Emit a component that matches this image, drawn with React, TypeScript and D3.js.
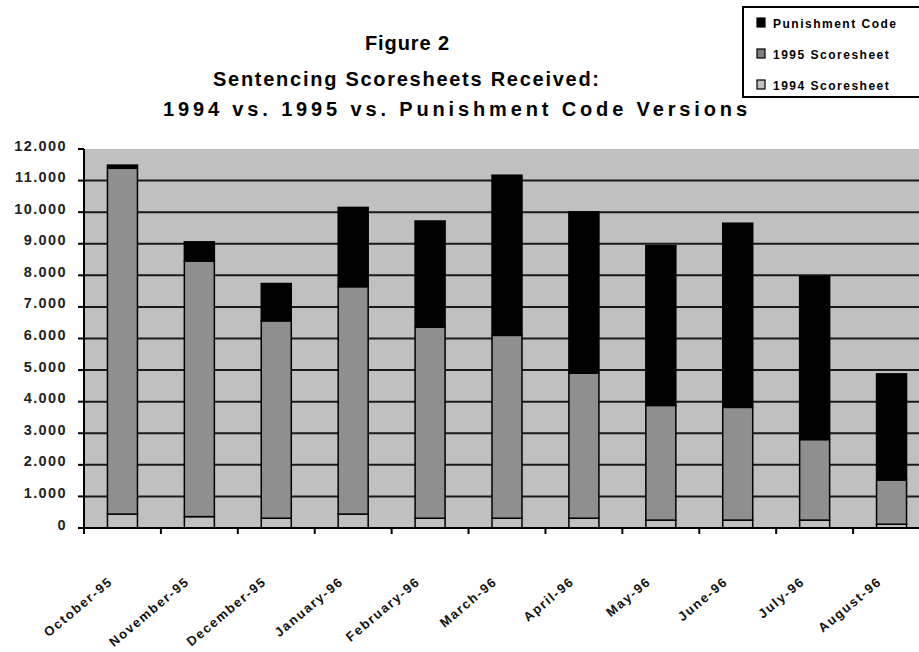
import React from "react";
import * as d3 from "d3";

const months = ["October-95","November-95","December-95","January-96","February-96","March-96","April-96","May-96","June-96","July-96","August-96"];
const sheet1994 = [440, 360, 310, 440, 310, 310, 310, 250, 250, 250, 120];
const sheet1995 = [10950, 8090, 6250, 7200, 6050, 5790, 4590, 3630, 3570, 2550, 1400];
const punishmentCode = [100, 610, 1180, 2510, 3360, 5070, 5110, 5060, 5830, 5170, 3360];
const yTicks = [0,1000,2000,3000,4000,5000,6000,7000,8000,9000,10000,11000,12000];
const legendLabels = ["Punishment Code", "1995 Scoresheet", "1994 Scoresheet"];
const titleLines = ["Figure 2", "Sentencing Scoresheets Received:", "1994 vs. 1995 vs. Punishment Code Versions"];

const W = 919, H = 652;
const FONT = "'Liberation Sans', Arial, sans-serif";

export default function App() {
  const x = d3.scaleBand<string>().domain(months).range([84, 930]).paddingInner(0.61).paddingOuter(0.305);
  const y = d3.scaleLinear().domain([0, 12000]).range([528, 149]);
  const rows = months.map((m, i) => ({ month: m, a: sheet1994[i], b: sheet1995[i], c: punishmentCode[i] }));
  const stack = d3.stack<any>().keys(["a", "b", "c"])(rows);
  const fills: Record<string, string> = { a: "#c0c0c0", b: "#8f8f8f", c: "#000000" };
  const step = x.step();
  const x0 = 84;
  const fmt = (v: number) => (v === 0 ? "0" : d3.format(",")(v).replace(/,/g, "."));
  const titleCenters = [407, 406, 455];
  const titleY = [50, 86, 116];
  const titleLen = [84, 386, 584];
  const legendFill = ["#000000", "#808080", "#c0c0c0"];

  return (
    <svg width={W} height={H} style={{ position: "absolute", left: 0, top: 0, background: "#fff" }} fontFamily={FONT}>
      {/* plot area */}
      <rect x={x0} y={149} width={930 - x0} height={528 - 149} fill="#c0c0c0" />
      {/* gridlines */}
      {yTicks.filter(t => t > 0 && t < 12000).map(t => (
        <line key={t} x1={x0} x2={W} y1={y(t)} y2={y(t)} stroke="#1a1a1a" strokeWidth={2} />
      ))}
      {/* bars */}
      {stack.map(s => (
        <g key={s.key}>
          {s.map((d, i) => (
            <rect key={i} x={x(months[i])!} width={x.bandwidth()} y={y(d[1])} height={y(d[0]) - y(d[1])}
              fill={fills[s.key]} stroke="#000" strokeWidth={1.5} />
          ))}
        </g>
      ))}
      {/* axes */}
      <line x1={x0} x2={x0} y1={149} y2={534} stroke="#000" strokeWidth={2} />
      <line x1={x0} x2={W} y1={528} y2={528} stroke="#000" strokeWidth={2} />
      {yTicks.map(t => (
        <g key={t}>
          <line x1={78} x2={x0} y1={y(t)} y2={y(t)} stroke="#000" strokeWidth={2} />
          <text x={67} y={y(t) + 1.5} textAnchor="end" fontSize={14.5} fontWeight="bold" letterSpacing={1.4} fill="#222">{fmt(t)}</text>
        </g>
      ))}
      {months.map((m, i) => (
        <line key={m} x1={x0 + step * (i + 1)} x2={x0 + step * (i + 1)} y1={528} y2={534} stroke="#000" strokeWidth={2} />
      ))}
      {months.map(m => {
        const cx = x(m)! + x.bandwidth() / 2 - 9;
        return (
          <text key={m} transform={`translate(${cx},583) rotate(-40)`} textAnchor="end" fontSize={13} fontWeight="bold" letterSpacing={1.6} fill="#111">{m}</text>
        );
      })}
      {/* title */}
      {titleLines.map((t, i) => (
        <text key={i} x={titleCenters[i]} y={titleY[i]} textAnchor="middle" fontSize={20} fontWeight="bold" fill="#000"
          textLength={titleLen[i]} lengthAdjust="spacing">{t}</text>
      ))}
      {/* legend */}
      <rect x={743} y={7} width={190} height={90} fill="#fff" stroke="#000" strokeWidth={2} />
      {legendLabels.map((l, i) => (
        <g key={l}>
          <rect x={757} y={18 + i * 31} width={8} height={9} fill={legendFill[i]} stroke="#000" strokeWidth={1.2} />
          <text x={773} y={28 + i * 31} fontSize={12} fontWeight="bold" letterSpacing={1.5} fill="#000">{l}</text>
        </g>
      ))}
    </svg>
  );
}
